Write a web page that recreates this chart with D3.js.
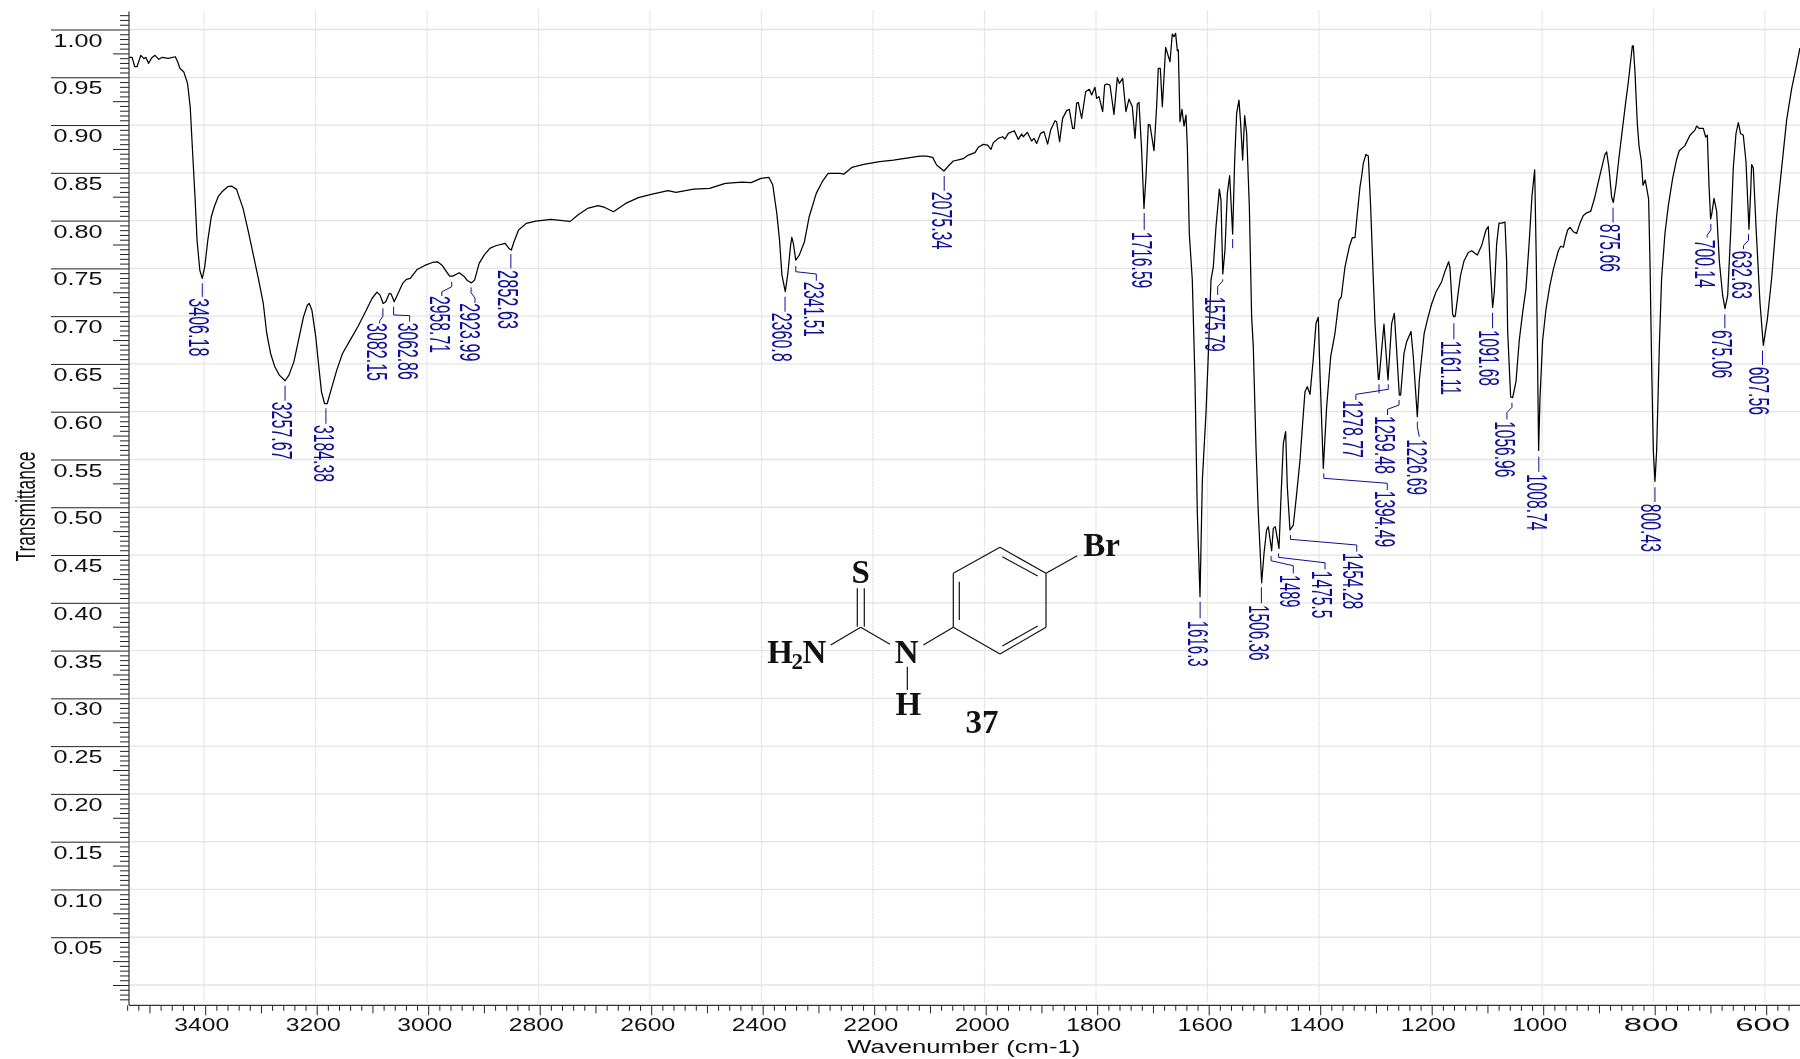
<!DOCTYPE html>
<html><head><meta charset="utf-8">
<script src="https://cdn.jsdelivr.net/npm/d3@7"></script>
<style>html,body{margin:0;padding:0;background:#fff}svg{display:block;filter:blur(.35px)}text{font-family:"Liberation Sans",Arial,sans-serif}</style>
</head><body><div id="c"></div>
<script>
// ---- spectrum readings: [wavenumber (cm-1), transmittance]
const bandNH = [[3537,.9714],[3532,.9714],[3527.4,.9616],[3523.2,.9616],[3516.4,.9735],[3510.9,.970],[3507.4,.9714],[3502.6,.9651],[3497,.9707],[3491,.9735],[3484,.9693],[3478,.9714],[3467,.9703],[3454.6,.972],[3450.5,.967],[3446.3,.9599],[3439.5,.9564],[3432.6,.9442],[3427.8,.9197],[3423.7,.8744],[3418.9,.822],[3415.5,.78],[3410.6,.7487],[3406.3,.7401],[3401.7,.7522],[3396.2,.7801],[3390,.8045],[3384.6,.815],[3377.7,.8255],[3370.8,.8307],[3360.5,.836],[3353.7,.8367],[3344.7,.8332],[3333,.8133],[3322.8,.7871],[3313.9,.7627],[3305.6,.74],[3296.7,.7138],[3290.5,.6824],[3283.6,.6615],[3276,.6475],[3267.9,.6388],[3257.6,.6329],[3250.7,.6388],[3241.8,.6527],[3233.5,.6754],[3224.6,.6998],[3217.7,.712],[3214.3,.7138],[3209.5,.7068],[3202.6,.6789],[3197.1,.6475],[3192.3,.6213],[3186.8,.6091],[3182,.6091],[3175.2,.6231],[3164.9,.644],[3154.6,.6615],[3140.9,.6754],[3127.1,.6894],[3113.4,.7051],[3101.7,.719],[3092.8,.7257],[3087.3,.7225],[3081.8,.7138],[3077,.7156],[3070.8,.7243],[3067.4,.7236],[3061.9,.7156],[3055,.7243],[3046.8,.7348],[3040,.739],[3033.1,.74]];
const bandCH = [[3020.7,.7494],[3007,.7536],[2993.3,.7567],[2984.3,.7574],[2976.1,.7539],[2969.2,.748],[2962.4,.7424],[2956.9,.7424],[2945.2,.746],[2937,.7424],[2930.1,.7375],[2923.2,.7354],[2917.7,.7382],[2909.5,.7557],[2900.6,.7644],[2890.3,.7714],[2880,.7742],[2862.8,.7766],[2856,.7714],[2851.8,.7697],[2847,.7784],[2838.8,.7906],[2825,.7976],[2807.9,.8],[2780.4,.8018],[2759.8,.8004],[2746.1,.7997],[2732.4,.8063],[2715.2,.8133],[2696.2,.8161],[2684.2,.8143],[2668.6,.8098],[2646.6,.8185],[2623.9,.8245],[2599,.8283],[2570.7,.8318],[2556.5,.83],[2524.6,.8335],[2496.2,.8342],[2467.9,.8395],[2438,.8409],[2421.8,.8402],[2404,.8447],[2389.8,.8458],[2382.8,.8377],[2375.6,.8081],[2370.7,.7801],[2366.4,.7435],[2360.4,.7261],[2355.8,.7452],[2350.8,.7749],[2348.7,.7829],[2345.9,.7766],[2341.6,.7592],[2335.3,.7644],[2326,.7784],[2317.5,.8046],[2304.8,.829],[2294.1,.8412],[2283.5,.85],[2262.2,.85],[2255.1,.8492],[2241,.8562],[2219.6,.8594],[2191.3,.8622],[2166.4,.8639]];
const bandOvertone = [[2118.8,.8681],[2106.8,.8681],[2096.1,.8667],[2088.9,.8587],[2075.8,.8524],[2068,.8576],[2059,.8629],[2050,.864],[2041.1,.8653],[2032.1,.8691],[2020.1,.8716],[2014.2,.8772],[2005.2,.8803],[1997.4,.8796],[1991.4,.8751],[1987.3,.882],[1978.3,.8866],[1970.5,.8883],[1966.3,.8859],[1960.4,.8918],[1949.6,.8946],[1942.4,.8855],[1936.4,.8911],[1933.5,.8883],[1926.3,.8929],[1918.5,.8838],[1914.3,.8866],[1909.5,.8813],[1902.4,.8918],[1896.4,.8936],[1889.8,.8806],[1884.4,.8953],[1876.6,.905],[1873.7,.904],[1868.3,.8831],[1862.9,.9075],[1855.7,.9156],[1851,.917],[1845,.8971],[1842,.8971],[1837.8,.9232],[1834.8,.9243],[1828.8,.9075],[1821.6,.9354],[1815.1,.9379],[1810.9,.932],[1804.9,.94],[1801.9,.9285],[1797.7,.9302],[1791.1,.9145],[1787.5,.9424],[1783.9,.9435],[1778,.9424],[1770.8,.9117],[1764.8,.9501],[1761.2,.9442],[1755.2,.9494],[1749.3,.9145],[1743.9,.9277],[1737.9,.9197],[1733.1,.8866],[1728.9,.9225],[1725.9,.9243],[1721.2,.8743],[1717,.8133],[1713.4,.8464],[1709.2,.9012],[1706.2,.9005],[1699,.8737],[1694.3,.9197],[1691.3,.9599],[1687.7,.9599],[1684.1,.9197],[1678.1,.9818],[1670.3,.9668],[1666.2,.9958],[1663.2,.993],[1660.2,.9965],[1657.2,.9784],[1655.4,.9791],[1652.4,.904],[1648.8,.9169],[1645.2,.8995],[1641.6,.911],[1639.2,.8778]];
const bandFingerprintA = [[1635.7,.7871],[1630.3,.7384],[1625.5,.6337],[1621.3,.4941],[1616.5,.4069],[1612.3,.529],[1605.8,.5988],[1601,.6686],[1596.8,.7384],[1592.6,.7522],[1587.8,.794],[1581.8,.8335],[1578.9,.822],[1575.6,.7447],[1571.7,.7697],[1567.5,.829],[1563.3,.8475],[1557.9,.7864],[1554.3,.8639],[1550.8,.9127],[1546.6,.9267],[1543.6,.9023],[1540,.8639],[1536.4,.9103],[1532.8,.8918],[1528,.815],[1523.9,.7],[1520.9,.6686],[1516.1,.5639],[1511.9,.4941],[1505.9,.4215],[1501.7,.4522],[1497,.4767],[1494,.4801],[1488,.455],[1485,.4784],[1481.4,.4801],[1474.8,.4575],[1471.2,.5115],[1467,.5674],[1462.9,.5796],[1459.9,.522],[1455.1,.4767],[1449.1,.4819],[1444.3,.508],[1437.1,.5499],[1432.4,.5883],[1428.2,.6215],[1424,.6267],[1419.2,.6187],[1413.2,.6564],[1408.4,.693],[1404.3,.6993],[1401.3,.6407],[1395.3,.5412],[1389.3,.6058],[1382.1,.6581],[1374.4,.6826],[1367.2,.7173],[1363,.7208],[1356.4,.7522],[1348.7,.7731],[1343.3,.7826],[1338.5,.7826],[1334.3,.808],[1329.5,.836],[1326.6,.8464],[1323.6,.8604],[1318.8,.8698],[1314.6,.8681],[1310.4,.815],[1305.6,.7384],[1302.6,.693],[1296.6,.6344],[1295.4,.6344],[1286.5,.6923],[1279.3,.6337],[1272.7,.693],[1268,.7035],[1263.8,.6651],[1259,.618],[1256.6,.618],[1250.6,.6616],[1245.8,.6738],[1238,.6845],[1233.9,.6581],[1226.7,.5953],[1223.1,.6337],[1214.4,.6826]];
const bandFingerprintB = [[1207,.7006],[1201,.7132],[1193.2,.7258],[1183,.7366],[1177.1,.7474],[1170.5,.7575],[1168.1,.751],[1163.3,.7024],[1161,.6998],[1158.6,.7006],[1153.2,.7258],[1149,.7438],[1143,.7582],[1135.2,.7672],[1129.3,.769],[1119,.7644],[1111.3,.7744],[1103.5,.7907],[1099.4,.7943],[1096.4,.7582],[1091.6,.7096],[1088.6,.7258],[1084.4,.7762],[1080.2,.7979],[1075.4,.7979],[1069.5,.799],[1066.5,.7582],[1064.7,.6861],[1059.3,.6159],[1055.7,.6152],[1049.7,.6321],[1043.8,.6753],[1037.8,.7042],[1031.8,.7294],[1025.8,.7798],[1021,.8267],[1016.2,.8537],[1013.3,.7582],[1010.9,.6501],[1009.1,.56],[1006.7,.6141],[1001.9,.6753],[995.9,.7078],[988.8,.733],[982.8,.7492],[973.8,.769],[969.6,.7737],[964.8,.7726],[960.6,.7834],[957,.7907],[952.9,.7935],[946.9,.7889],[940.9,.7871],[934.9,.7979],[928.9,.8058],[922.9,.8087],[915.8,.8101],[909.2,.8231],[902,.8411],[896.1,.8555],[890.1,.8699],[887.1,.8725],[882.9,.8555],[878.1,.8249],[875.1,.8195],[870.4,.8375],[865,.8663],[859,.8952],[853,.924],[848.2,.9456],[841,.9835],[839.3,.9835],[836.3,.9564],[832.1,.9024],[829.1,.879],[824.9,.8627],[821.9,.8375],[817.8,.8429],[811.8,.8231],[809.4,.7582],[806.4,.6501],[803.4,.56],[800.4,.5276],[797.4,.56],[792.6,.6681],[788.5,.7402],[782.5,.787],[776.5,.8159],[768.7,.8447],[761.6,.8645],[756.8,.8736],[746.7,.879],[737.6,.8898],[728.7,.8952],[725.7,.8995],[720.9,.897],[713.7,.897],[709.5,.888],[706.5,.8898],[703.5,.8375],[700.6,.8022],[698.2,.8087],[694.6,.8238],[689.8,.8105],[685,.7582],[679,.7222],[674.8,.7085],[670,.7222],[664.7,.7871],[659.9,.8555],[655.1,.8916],[650.9,.9031],[646.8,.8916],[642,.8898],[637.2,.8627],[631.8,.7914],[628.8,.8303],[627,.8591],[624,.8555],[619.2,.7943],[612.1,.715],[606.1,.67],[598.9,.6969],[591.1,.7402],[582.2,.8051],[573.2,.8555],[564.2,.906],[555.3,.9384],[546.3,.9637],[540.4,.9811]];
const spectrum = [...bandNH,...bandCH,...bandOvertone,...bandFingerprintA,...bandFingerprintB];

// ---- peak picks
const peakLabels = ["3406.18","3257.67","3184.38","3082.15","3062.86","2958.71","2923.99","2852.63","2360.8","2341.51","2075.34","1716.59","1616.3","1575.79","1506.36","1489","1475.5","1454.28","1394.49","1278.77","1259.48","1226.69","1161.11","1091.68","1056.96","1008.74","875.66","800.43","700.14","675.06","632.63","607.56"];
const peakT = [.7401,.633,.6093,.714,.7157,.7425,.7355,.7697,.7261,.7593,.8524,.8134,.4069,.7447,.4216,.455,.4575,.4767,.5413,.6344,.618,.5953,.6993,.7098,.6151,.56,.8195,.5276,.8022,.7084,.7913,.6699];
// label placement relative to each pick (pixels): [text dx, text dy, text length, leader polyline]
const S = [[0,5],[0,20]];
const peakLayout = [
 [-2.8,20,58,[[0,5],[0,18.5]]],[-2.9,21,58,S],[-2,21.7,57,[[0,5],[0,20.5]]],
 [-6,19.7,58,[[0,5],[0,13],[-3.4,18],[-3.4,20]]],[14.9,21,57,[[0,5],[0,13.3],[16,14],[16,20]]],
 [-11.7,20,57,[[0,5.7],[0,10.7],[-9.9,15.7],[-9.9,20]]],[-.4,20.6,58,[[0,4.6],[0,10],[3.9,15.3],[3.9,20]]],
 [-2.9,20,59,[[0,4],[0,18.3]]],[-2.8,21,49,S],[18,21.7,55,[[0,6],[0,11.7],[20.5,14],[20.5,20.7]]],
 [-2.3,20.7,57.6,[[0,5],[0,19.7]]],[-2.3,23.4,56.6,[[0,4.7],[0,21.7]]],[-2.2,24,46,[[0,5],[0,21.6]]],
 [-7.2,22.7,55,[[0,5.3],[0,7],[-5,12.7],[-5,21]]],[-2.5,22.3,55.7,[[0,4.6],[0,20.6]]],
 [19.2,24.3,32.3,[[0,5.3],[0,10],[22.2,15],[22.2,22.6]]],[43.6,22.4,47.6,[[0,5],[0,9],[46.4,14.4],[46.4,21]]],
 [62.9,22.7,56.6,[[0,5],[0,9.3],[66.3,15],[66.3,21.7]]],[61.2,22.4,56.6,[[0,5],[0,10],[63.5,15],[63.5,21.7]]],
 [-35.4,21,57.6,[[0,5],[0,10],[-32.4,15],[-32.4,20.7]]],[-13.5,21,58,[[0,5],[0,10],[-11.5,14.3],[-11.5,20]]],
 [-.5,22.6,55.7,[[0,5],[0,10],[2,20]]],[-2.6,23.4,54.3,[[0,6],[0,22]]],[-3,22.7,56,[[0,5.4],[0,21]]],
 [-7,23.4,56.1,[[0,5],[0,9.6],[-5,14.8],[-5,21.7]]],[-2,23.5,56.4,[[0,6.2],[0,21.4]]],
 [-2.5,21.4,48.1,[[0,5.2],[0,20]]],[-3.3,22.4,48.2,[[0,5.9],[0,20.6]]],
 [-5.4,20.7,48.2,[[0,4.9],[0,11],[-3.7,16.2],[-3.7,18.6]]],[-2.3,21.4,48.1,[[0,5.8],[0,19.6]]],
 [-6.3,21.3,48.2,[[0,4.8],[0,11],[-5,16.2],[-5,19.6]]],[-3,21.4,48.2,[[0,5.2],[0,19.6]]]];
// picks whose label is not shown (leader stub only): wavenumber, transmittance
const unlabelledPicks = [[1295.4,.6344],[1557.9,.7864]];

// ---- axis ticks
const xMajor = [3400,3200,3000,2800,2600,2400,2200,2000,1800,1600,1400,1200,1000,800,600];
const xTicks = d3.range(3540,540,-20);
const yTickSteps = d3.range(-3,204);
const W=1800,H=1059;
const x = d3.scaleLinear().domain([3400,600]).range([205.7,1766.7]);
const y = d3.scaleLinear().domain([0,1]).range([985.5,30]);
const AX=129, AY=1005.3, TOP=11.5;
const svg = d3.select("#c").append("svg").attr("width",W).attr("height",H).attr("viewBox",`0 0 ${W} ${H}`);
svg.append("rect").attr("width",W).attr("height",H).attr("fill","#fff");
svg.append("defs").append("clipPath").attr("id","plot").append("rect").attr("x",AX).attr("y",TOP).attr("width",W-AX).attr("height",AY-TOP);

// grid
const grid = svg.append("g");
grid.selectAll("line.h").data(d3.range(0,21).map(i=>i*.05)).join("line").attr("class","h")
  .attr("x1",AX).attr("x2",W).attr("y1",d=>y(d)-.5).attr("y2",d=>y(d)-.5).attr("stroke","#e4e4e4").attr("stroke-width",1.3);
grid.selectAll("line.v").data(xMajor).join("line").attr("class","v")
  .attr("y1",TOP-1).attr("y2",AY-2).attr("x1",d=>x(d)-1.7).attr("x2",d=>x(d)-1.7).attr("stroke","#dcdcdc").attr("stroke-width",1.2).attr("stroke-dasharray","2 1");

// y axis
const yMinor = yTickSteps.filter(i=>i%5!==0).map(i=>i*.005);
const yMed = yTickSteps.filter(i=>i%5===0&&(i%10!==0||i===0)).map(i=>i*.005);
const yMaj = yTickSteps.filter(i=>i%10===0&&i>0).map(i=>i*.005);
const gy = svg.append("g").attr("transform",`translate(${AX},0)`);
const axY=(vals,len)=>d3.axisLeft(y).tickValues(vals).tickSize(len).tickSizeOuter(0).offset(0).tickFormat(d3.format(".2f"));
gy.append("g").call(axY(yMinor,9)).call(g=>{g.selectAll("text").remove();g.select(".domain").remove();});
gy.append("g").call(axY(yMed,16)).call(g=>{g.selectAll("text").remove();g.select(".domain").remove();});
gy.append("g").call(axY(yMaj,78)).call(g=>{
  g.select(".domain").remove();
  g.selectAll("text").attr("x",-26.5).attr("y",16.6).attr("dy",0).attr("text-anchor","end")
    .attr("font-size",18.5).attr("textLength",49).attr("lengthAdjust","spacingAndGlyphs")
    .style("font-family",'"Liberation Sans"').attr("fill","#111");
});
gy.selectAll("line").attr("stroke","#222").attr("stroke-width",1);

// x axis
const xMinorV = xTicks.filter(d=>d%100!==0);
const xMedV = xTicks.filter(d=>d%100===0&&d%200!==0);
const gx = svg.append("g").attr("transform",`translate(0,${AY})`);
const axX=(vals,len)=>d3.axisBottom(x).tickValues(vals).tickSize(len).tickSizeOuter(0).offset(0).tickFormat(d3.format("d"));
gx.append("g").call(axX(xMinorV,5.5)).call(g=>{g.selectAll("text").remove();g.select(".domain").remove();});
gx.append("g").call(axX(xMedV,8)).call(g=>{g.selectAll("text").remove();g.select(".domain").remove();});
gx.append("g").call(axX(xMajor,10)).call(g=>{
  g.select(".domain").remove();
  g.selectAll("text").attr("x",-4).attr("y",25.5).attr("dy",0).attr("text-anchor","middle")
    .attr("font-size",18.5).attr("textLength",55).attr("lengthAdjust","spacingAndGlyphs")
    .style("font-family",'"Liberation Sans"').attr("fill","#111");
});
gx.selectAll("line").attr("stroke","#222").attr("stroke-width",1);
svg.append("line").attr("x1",AX).attr("x2",AX).attr("y1",TOP).attr("y2",AY).attr("stroke","#333").attr("stroke-width",1.2);
svg.append("line").attr("x1",AX).attr("x2",W).attr("y1",AY).attr("y2",AY).attr("stroke","#333").attr("stroke-width",1.2);

// titles
svg.append("text").attr("transform","translate(35,561.5) rotate(-90)").attr("font-size",27).attr("textLength",110)
  .attr("lengthAdjust","spacingAndGlyphs").attr("fill","#111").text("Transmittance");
svg.append("text").attr("x",847.3).attr("y",1052.7).attr("font-size",18.5).attr("textLength",233)
  .attr("lengthAdjust","spacingAndGlyphs").attr("fill","#111").text("Wavenumber (cm-1)");

// spectrum
svg.append("path").datum(spectrum).attr("clip-path","url(#plot)").attr("fill","none").attr("stroke","#000").attr("stroke-width",1.25)
  .attr("stroke-linejoin","round").attr("d",d3.line().x(d=>x(d[0])).y(d=>y(d[1])));

// peak annotations
const ink="#0e0e96";
const leader=d3.line();
const gp=svg.append("g");
peakLabels.forEach((lab,i)=>{
  const px=x(+lab), py=y(peakT[i]), [dx,dy,len,pts]=peakLayout[i];
  gp.append("path").attr("d",leader(pts.map(p=>[px+p[0],py+p[1]]))).attr("fill","none").attr("stroke",ink).attr("stroke-width",1);
  gp.append("text").attr("transform",`translate(${px+dx-10.2},${py+dy}) rotate(90)`).attr("font-size",29)
    .attr("textLength",len).attr("lengthAdjust","spacingAndGlyphs").attr("fill",ink).text(lab);
});
unlabelledPicks.forEach(p=>{
  gp.append("path").attr("d",leader([[x(p[0]),y(p[1])+5],[x(p[0]),y(p[1])+14]])).attr("fill","none").attr("stroke",ink).attr("stroke-width",1);
});

// structure 37
const bonds=[[953.3,573.3,1000,547.3],[1000,547.3,1046,573.3],[1046,573.3,1046,627.3],[1046,627.3,1000,654],[1000,654,953.3,627.3],[953.3,627.3,953.3,573.3],
 [959.3,581.7,959.3,620],[1002.3,556.7,1037.7,576],[1002.3,646,1037.7,626],[1046,573.3,1077.3,555.7],[923.3,645,953.3,627.3],
 [860.7,627.3,890,644.3],[830.7,645,860.7,627.3],[857.3,626.7,857.3,588.3],[864.3,626.7,864.3,588.3],[907.3,666.7,907.3,690]];
const gs=svg.append("g");
gs.selectAll("line").data(bonds).join("line").attr("x1",d=>d[0]).attr("y1",d=>d[1]).attr("x2",d=>d[2]).attr("y2",d=>d[3]).attr("stroke","#111").attr("stroke-width",1.2);
const atoms=[["S",860.7,582.8,"middle",33],["Br",1083.3,555.5,"start",33],["N",906.7,663.3,"middle",33],["H",908.3,715,"middle",33],["37",982,733.3,"middle",33],["H",767.3,663.3,"start",33],["2",791.5,668.5,"start",23],["N",802.5,663.3,"start",33]];
gs.selectAll("text").data(atoms).join("text").attr("x",d=>d[1]).attr("y",d=>d[2]).attr("text-anchor",d=>d[3]).attr("font-size",d=>d[4])
  .style("font-family",'"Liberation Serif"').attr("font-weight","bold").attr("fill","#111").text(d=>d[0]);
</script></body></html>
